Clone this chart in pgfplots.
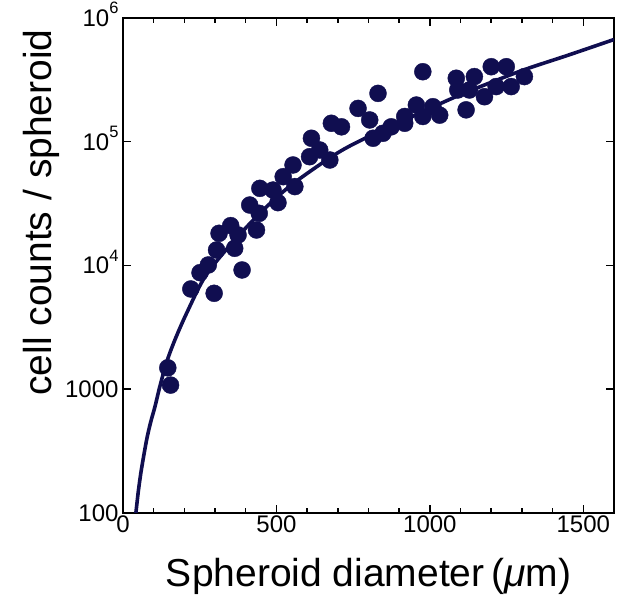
\documentclass[border=0pt]{standalone}
\usepackage{pgfplots}
\pgfplotsset{compat=1.18}
\usepackage{fontspec}
\setmainfont{Liberation Sans}
\definecolor{navy}{RGB}{16,14,80}
\newcommand{\pw}[1]{10\raisebox{12.5pt}{\fontsize{16.5}{16.5}\selectfont #1}}
\begin{document}
\begin{tikzpicture}
\begin{axis}[
  scale only axis,
  width=491pt, height=495pt,
  xmin=0, xmax=1600,
  ymode=log, ymin=100, ymax=1000000,
  axis line style={line width=1.8pt},
  xtick={0,500,1000,1500},
  minor xtick={100,200,300,400,600,700,800,900,1100,1200,1300,1400},
  ytick={100,1000,10000,100000,1000000},
  yticklabels={100,1000,\pw{4},\pw{5},\pw{6}},
  xticklabels={0,500,1000,1500},
  tick align=inside,
  tick pos=both,
  major tick length=8pt, minor tick length=5pt,
  every tick/.style={black, line width=1.5pt},
  tick label style={font=\fontsize{24}{24}\selectfont},
  xticklabel style={yshift=1pt},
  yticklabel style={anchor=base east, xshift=-1pt, yshift=-8.5pt},
  log basis y=10,
  xlabel={Spheroid diameter\,({\itshape μ}m)},
  ylabel={cell counts / spheroid},
  label style={font=\fontsize{39}{39}\selectfont},
  xlabel style={at={(axis description cs:0.5,0)}, anchor=base, yshift=-74pt},
  ylabel style={at={(axis description cs:0,0.607)}, anchor=base, yshift=71pt},
  clip=true,
]
\addplot[navy, line width=3.6pt, smooth, no marks] coordinates {
(42,100) (50,150) (60,225) (77,390) (90,540) (104,720) (120,1050) (142,1650) (169,2500)
(207,4100) (267,8100) (348,14500) (450,27000) (550,45000) (695,80000)
(800,110000) (966,170000) (1100,240000) (1292,370000) (1450,500000) (1600,670000)
};
\addplot[only marks, mark=*, mark size=8.5pt, mark options={fill=navy, draw=navy}] coordinates {
(146,1490) (155,1080) (221,6460) (297,5960) (251,8750) (278,10100) (305,13340)
(313,18200) (351,21000) (364,13770) (375,17650) (388,9200) (413,30800) (435,19360)
(444,26400) (446,42000) (505,32200) (489,40700) (560,43400) (522,52200) (554,64900)
(614,106700) (608,75700) (641,85800) (674,71200) (679,141000) (712,132000)
(766,186000) (804,150000) (815,106700) (831,246000) (847,117000) (874,132000)
(918,141000) (918,160000) (956,198000) (977,160000) (977,368000) (1010,192000)
(1032,164000) (1086,326000) (1091,262000) (1118,181000) (1145,336000) (1129,262000)
(1178,231000) (1200,404000) (1216,279000) (1249,404000) (1265,279000) (1308,336000)
};
\end{axis}
\pgfresetboundingbox
\path (-123pt,-88pt) rectangle (499pt,513pt);
\end{tikzpicture}
\end{document}
